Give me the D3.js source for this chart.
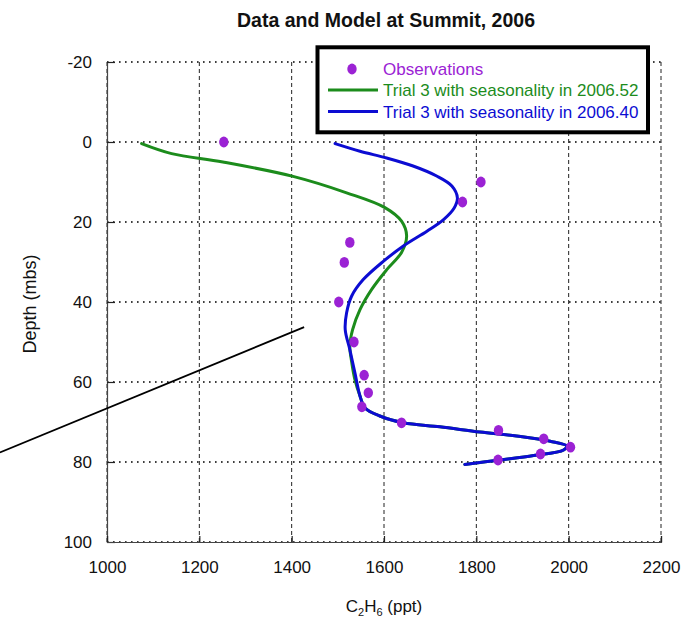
<!DOCTYPE html>
<html>
<head>
<meta charset="utf-8">
<script src="https://cdn.jsdelivr.net/npm/d3@7"></script>
<style>
	body { margin: 0; background: #fff; }
	svg { display: block; font-family: "Liberation Sans", Arial, sans-serif; }
</style>
</head>
<body>
<div id="chart"></div>
<script>
// observed C2H6 (ppt) vs depth (m below surface)
var obsC2H6  = [1253, 1810, 1770, 1526, 1514, 1502, 1535, 1557, 1566, 1552, 1638, 1848, 1946, 2004, 1939, 1847];
var obsDepth = [0, 10, 15, 25.1, 30.1, 40, 50, 58.3, 62.7, 66.2, 70.2, 72.1, 74.2, 76.3, 78, 79.5];

// trial 3, seasonality 2006.52 (green)
var trialA_C2H6  = [1075, 1140, 1251, 1403, 1519, 1602, 1638, 1649, 1638, 1606, 1573, 1548, 1532, 1526, 1530, 1537, 1548,
	1559, 1591, 1642, 1721, 1808, 1887, 1960, 1996, 1989, 1924, 1851, 1775];
var trialA_Depth = [0.4, 2.9, 5, 8.6, 12.7, 16.4, 19.8, 23.5, 27.6, 31.9, 36.9, 41.9, 46.9, 51, 55, 59.4, 63.5,
	66.5, 68.5, 70.2, 71.2, 72.5, 73.5, 74.8, 76, 77, 78.4, 79.5, 80.6];

// trial 3, seasonality 2006.40 (blue)
var trialB_C2H6  = [1494, 1548, 1606, 1663, 1714, 1747, 1759, 1752, 1729, 1693, 1642, 1599, 1555, 1530, 1519, 1516, 1526, 1537, 1548,
	1559, 1591, 1642, 1721, 1808, 1887, 1960, 1996, 1989, 1924, 1851, 1775];
var trialB_Depth = [0.4, 2.3, 4, 6, 8.5, 11, 14, 16.5, 19.4, 22.3, 26, 29.8, 34.4, 38.5, 42.7, 46.9, 51.9, 57.7, 63.5,
	66.5, 68.5, 70.2, 71.2, 72.5, 73.5, 74.8, 76, 77, 78.4, 79.5, 80.6];

// stray annotation stroke, in data units
var annotC2H6  = [768, 1427];
var annotDepth = [77.6, 46.3];

var xTicks = [1000, 1200, 1400, 1600, 1800, 2000, 2200];
var yTicks = [-20, 0, 20, 40, 60, 80, 100];

var legendLabels = ["Observations", "Trial 3 with seasonality in 2006.52", "Trial 3 with seasonality in 2006.40"];

var purple = "#9b22d4", green = "#1c8c1c", blue = "#0c0cd2";

var width = 695, height = 628;
var margin = {left: 107, top: 62, right: 34, bottom: 86};

var svg = d3.select("#chart").append("svg")
	.attr("width", width)
	.attr("height", height);

var x = d3.scaleLinear().domain([1000, 2200]).range([margin.left, width - margin.right]);
var y = d3.scaleLinear().domain([-20, 100]).range([margin.top, height - margin.bottom]);

// grid
svg.append("g").selectAll("line")
	.data(xTicks)
	.enter().append("line")
	.attr("x1", function(d){ return x(d); }).attr("x2", function(d){ return x(d); })
	.attr("y1", y(-20)).attr("y2", y(100))
	.attr("stroke", "#222").attr("stroke-width", 1)
	.attr("stroke-dasharray", "4,3");

svg.append("g").selectAll("line")
	.data(yTicks)
	.enter().append("line")
	.attr("x1", x(1000)).attr("x2", x(2200))
	.attr("y1", function(d){ return y(d); }).attr("y2", function(d){ return y(d); })
	.attr("stroke", "#000").attr("stroke-width", 1.6)
	.attr("stroke-dasharray", "1.6,4.4");

// axes (plain hyphen for negatives, like the original)
var fmt = function(d){ return String(d); };
var yAxis = svg.append("g")
	.attr("transform", "translate(" + margin.left + ",0)")
	.call(d3.axisLeft(y).tickValues(yTicks).tickSize(-8).tickPadding(15).tickFormat(fmt));
var xAxis = svg.append("g")
	.attr("transform", "translate(0," + y(100) + ")")
	.call(d3.axisBottom(x).tickValues(xTicks).tickSize(-6).tickPadding(19).tickFormat(fmt));

[yAxis, xAxis].forEach(function(a){
	a.select(".domain").attr("stroke", "#444").attr("stroke-width", 1.2);
	a.selectAll(".tick line").attr("stroke", "#222").attr("stroke-width", 1.2);
	a.selectAll("text").attr("font-size", 17).attr("fill", "#111")
		.attr("font-family", "'Liberation Sans', Arial, sans-serif");
});

// titles
svg.append("text")
	.attr("x", 386).attr("y", 27)
	.attr("text-anchor", "middle")
	.attr("font-size", 19.5).attr("font-weight", "bold").attr("fill", "#111")
	.text("Data and Model at Summit, 2006");

var xt = svg.append("text")
	.attr("x", 384).attr("y", 612)
	.attr("text-anchor", "middle")
	.attr("font-size", 17).attr("fill", "#111");
xt.append("tspan").text("C");
xt.append("tspan").attr("font-size", 11).attr("dy", 4).text("2");
xt.append("tspan").attr("dy", -4).text("H");
xt.append("tspan").attr("font-size", 11).attr("dy", 4).text("6");
xt.append("tspan").attr("dy", -4).text(" (ppt)");

svg.append("text")
	.attr("transform", "translate(36,304) rotate(-90)")
	.attr("text-anchor", "middle")
	.attr("font-size", 18).attr("fill", "#111")
	.text("Depth (mbs)");

// model curves
var line = d3.line()
	.x(function(d){ return x(d[0]); })
	.y(function(d){ return y(d[1]); })
	.curve(d3.curveCatmullRom.alpha(0.5));

svg.append("path")
	.datum(d3.zip(trialA_C2H6, trialA_Depth))
	.attr("d", line)
	.attr("fill", "none").attr("stroke", green).attr("stroke-width", 3)
	.attr("stroke-linecap", "round").attr("stroke-linejoin", "round");

svg.append("path")
	.datum(d3.zip(trialB_C2H6, trialB_Depth))
	.attr("d", line)
	.attr("fill", "none").attr("stroke", blue).attr("stroke-width", 3)
	.attr("stroke-linecap", "round").attr("stroke-linejoin", "round");

// observations
svg.append("g").selectAll("ellipse")
	.data(d3.zip(obsC2H6, obsDepth))
	.enter().append("ellipse")
	.attr("cx", function(d){ return x(d[0]); })
	.attr("cy", function(d){ return y(d[1]); })
	.attr("rx", 4.7).attr("ry", 5.4)
	.attr("fill", purple);

// annotation line
svg.append("line")
	.attr("x1", x(annotC2H6[0])).attr("y1", y(annotDepth[0]))
	.attr("x2", x(annotC2H6[1])).attr("y2", y(annotDepth[1]))
	.attr("stroke", "#000").attr("stroke-width", 1.8);

// legend
var lg = svg.append("g");
lg.append("rect")
	.attr("x", 317.5).attr("y", 47.3)
	.attr("width", 330.5).attr("height", 85)
	.attr("fill", "#fff").attr("stroke", "#000").attr("stroke-width", 4);
lg.append("ellipse")
	.attr("cx", 352).attr("cy", 69).attr("rx", 4.7).attr("ry", 5.4)
	.attr("fill", purple);
[green, blue].forEach(function(c, i){
	lg.append("line")
		.attr("x1", 328).attr("x2", 378)
		.attr("y1", 90 + i*21.5).attr("y2", 90 + i*21.5)
		.attr("stroke", c).attr("stroke-width", 3);
});
lg.selectAll("text")
	.data(legendLabels)
	.enter().append("text")
	.attr("x", 383)
	.attr("y", function(d, i){ return 69 + i*21.2; })
	.attr("dy", "0.36em")
	.attr("font-size", 17)
	.attr("fill", function(d, i){ return [purple, green, blue][i]; })
	.text(function(d){ return d; });
</script>
</body>
</html>
